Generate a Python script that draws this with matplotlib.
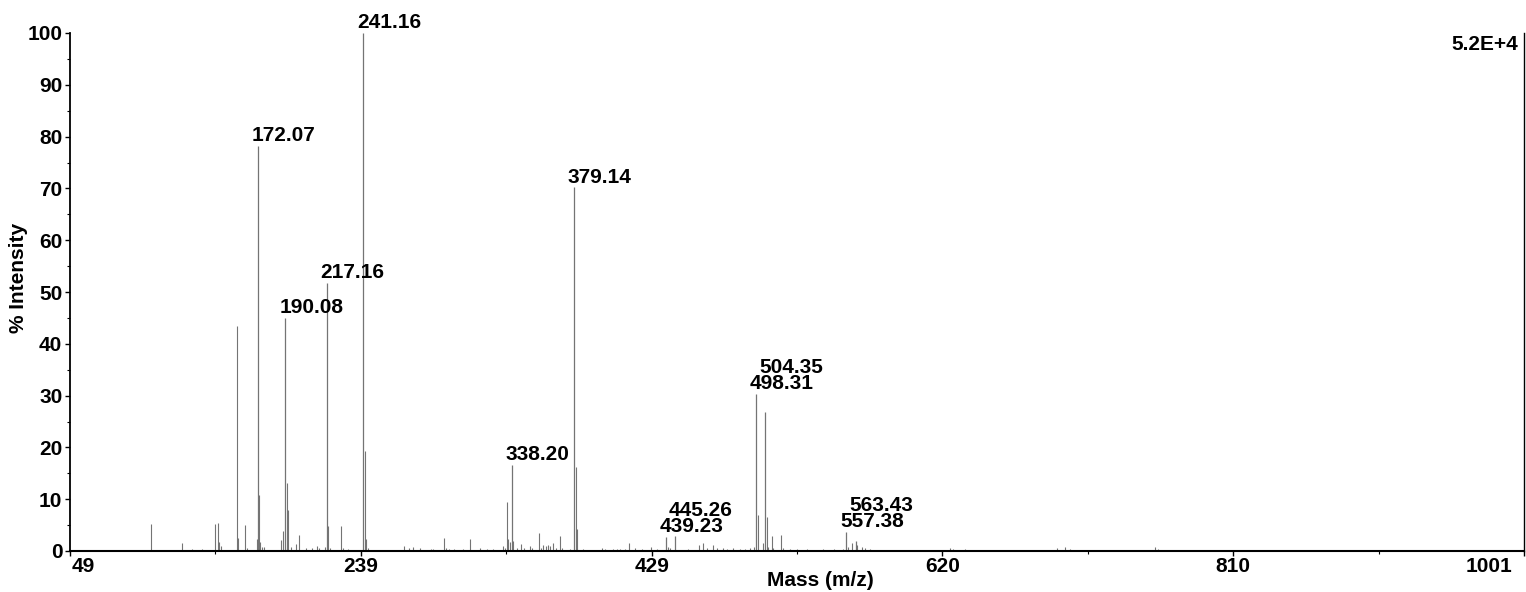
import matplotlib
matplotlib.use("Agg")
import matplotlib.pyplot as plt
import matplotlib.transforms as mtransforms
import numpy as np

# ---------------- data ----------------
labeled_mass = [172.07, 190.08, 217.16, 241.16, 338.20, 379.14,
                439.23, 445.26, 498.31, 504.35, 557.38, 563.43]
labeled_int = [78.2, 45.0, 51.7, 100.0, 16.6, 70.2,
               2.7, 2.9, 30.4, 26.8, 3.7, 2.0]

other_mass = [55.0, 60.0, 66.0, 75.0, 85.0, 93.0, 102.0, 122.5, 129.1, 135.2,
              143.8, 146.1, 146.8, 148.1, 158.2, 159.0, 163.8, 165.1, 171.3,
              173.05, 173.6, 175.0, 176.0, 187.0, 188.7, 191.05, 191.4, 192.0,
              193.4, 197.2, 199.2, 203.5, 207.3, 211.0, 212.2, 216.2, 218.2,
              219.5, 226.7, 228.0, 231.0, 242.16, 243.1, 244.2, 249.9, 267.9,
              271.2, 273.8, 278.2, 285.4, 286.9, 293.9, 295.2, 297.4, 300.5,
              306.6, 311.0, 317.5, 321.9, 326.2, 332.8, 333.9, 335.0, 336.0,
              337.1, 339.3, 341.7, 344.4, 346.3, 350.2, 351.4, 356.1, 357.2,
              359.0, 360.5, 362.2, 363.3, 365.5, 367.3, 369.9, 371.0, 376.4,
              380.14, 381.2, 385.2, 397.2, 399.4, 404.6, 407.0, 409.2, 412.5,
              415.3, 419.0, 423.4, 429.3, 433.2, 440.8, 441.9, 453.5, 461.1,
              463.3, 465.9, 469.9, 472.7, 476.8, 479.3, 483.2, 487.8, 491.0,
              494.3, 496.9, 499.31, 503.0, 505.35, 506.3, 508.5, 509.6, 514.6,
              516.1, 520.5, 524.9, 531.5, 542.3, 548.9, 555.4, 558.7, 561.3,
              564.2, 567.5, 569.6, 572.9, 579.5, 589.3, 599.1, 612.2, 625.3,
              627.3, 635.1, 645.0, 658.0, 671.1, 684.2, 695.2, 700.6, 703.9,
              717.0, 730.1, 743.2, 759.5, 761.5, 775.9, 795.6, 821.8, 854.5,
              887.3, 920.0, 952.7, 985.5]
other_int = [0.2, 0.2, 0.2, 0.2, 0.2, 0.2, 5.2, 1.6, 0.4, 0.4,
             5.3, 5.5, 1.7, 0.9, 43.5, 2.6, 5.0, 0.6, 2.3,
             10.8, 1.7, 0.8, 0.8, 2.1, 3.9, 13.2, 0.6, 7.9,
             0.8, 1.3, 3.1, 0.5, 0.5, 1.0, 0.5, 0.7, 4.8,
             0.5, 4.8, 0.5, 0.3, 19.4, 2.3, 0.5, 0.2, 0.9,
             0.5, 0.7, 0.5, 0.4, 0.4, 2.5, 0.5, 0.4, 0.4,
             0.3, 2.4, 0.5, 0.3, 0.3, 1.0, 0.5, 9.5, 2.3,
             1.7, 2.0, 0.5, 1.3, 0.5, 0.9, 0.5, 3.5, 0.5,
             1.2, 1.0, 1.2, 0.9, 1.5, 0.5, 2.9, 0.5, 0.4,
             16.2, 4.2, 0.4, 0.5, 0.3, 0.3, 0.3, 0.3, 0.4,
             1.5, 0.5, 0.4, 0.8, 0.4, 0.8, 0.5, 0.4, 1.2,
             1.6, 0.5, 1.2, 0.5, 0.5, 0.4, 0.5, 0.4, 0.4,
             0.5, 0.8, 6.9, 1.6, 6.5, 0.8, 2.9, 0.5, 3.0,
             0.5, 0.4, 0.3, 0.3, 0.3, 0.3, 0.4, 0.8, 1.5,
             1.1, 0.8, 0.5, 0.4, 0.2, 0.2, 0.2, 0.2, 0.6,
             0.3, 0.3, 0.2, 0.2, 0.2, 0.2, 0.5, 0.7, 0.3,
             0.2, 0.2, 0.2, 0.8, 0.3, 0.2, 0.2, 0.2, 0.2,
             0.2, 0.2, 0.2, 0.2]

x_ticks = [49, 239, 429, 620, 810, 1001]
scale_text = "5.2E+4"
x_label = "Mass (m/z)"
y_label = "% Intensity"

# ---------------- plot ----------------
plt.rcParams['font.family'] = ['Liberation Sans', 'DejaVu Sans']
plt.rcParams['font.weight'] = 'bold'

W, H, DPI = 1526, 592, 100
fig = plt.figure(figsize=(W / DPI, H / DPI), dpi=DPI)
ax = fig.add_axes([70 / W, (H - 551) / H, (1524 - 70) / W, (551 - 33) / H])

peak_color = '#747474'
ax.vlines(other_mass, 0, other_int, color=peak_color, lw=0.8)
ax.vlines(labeled_mass, 0, labeled_int, color=peak_color, lw=0.9)

ax.set_xlim(49, 1001)
ax.set_ylim(0, 100)

ax.spines['top'].set_visible(False)
ax.spines['left'].set_linewidth(1.3)
ax.spines['bottom'].set_linewidth(1.5)
ax.spines['right'].set_linewidth(1.0)

ax.set_yticks(np.arange(0, 101, 10))
ax.set_yticks(np.arange(5, 100, 10), minor=True)
xt = np.linspace(x_ticks[0], x_ticks[-1], len(x_ticks))
ax.set_xticks(xt)
ax.set_xticklabels([str(v) for v in x_ticks])
ax.set_xticks((xt[:-1] + xt[1:]) / 2, minor=True)

ax.tick_params(axis='both', which='major', labelsize=15, length=3.5, width=1, pad=2)
ax.tick_params(axis='both', which='minor', length=2.5, width=0.8)
ax.tick_params(axis='x', which='major', pad=1)

labels = ax.get_xticklabels()
labels[0].set_horizontalalignment('left')
labels[0].set_transform(labels[0].get_transform() + mtransforms.ScaledTranslation(2 / DPI, 0, fig.dpi_scale_trans))
labels[-1].set_horizontalalignment('right')
labels[-1].set_transform(labels[-1].get_transform() + mtransforms.ScaledTranslation(-12 / DPI, 0, fig.dpi_scale_trans))
for t in ax.get_xticklabels() + ax.get_yticklabels():
    t.set_fontweight('bold')

ax.set_xlabel(x_label, fontsize=15, fontweight='bold')
ax.xaxis.set_label_coords(0.516, -0.038)
ax.xaxis.label.set_verticalalignment('top')
ax.set_ylabel(y_label, fontsize=15, fontweight='bold')
ax.yaxis.set_label_coords(-0.0289, 0.527)

ax.text(0.996, 0.977, scale_text, transform=ax.transAxes, ha='right', va='center',
        fontsize=15, fontweight='bold')

# peak labels, stacked upward to avoid overlapping
fig.canvas.draw()
renderer = fig.canvas.get_renderer()
placed = []
order = np.argsort(labeled_mass)
for i in order:
    m, h = labeled_mass[i], labeled_int[i]
    txt = ax.annotate(f"{m:.2f}", xy=(m, h), xytext=(-4.5, 0.5), textcoords='offset points',
                      ha='left', va='bottom', fontsize=15, fontweight='bold')
    bb = txt.get_window_extent(renderer)
    for _ in range(20):
        hit = None
        for pb in placed:
            if bb.x0 < pb.x1 and bb.x1 > pb.x0 and bb.y0 < pb.y1 - 3 and bb.y1 > pb.y0:
                hit = pb
                break
        if hit is None:
            break
        dy_px = (hit.y1 - 3) - bb.y0
        x_off, y_off = txt.xyann
        txt.xyann = (x_off, y_off + dy_px * 72 / DPI)
        bb = txt.get_window_extent(renderer)
    placed.append(bb)

fig.savefig("out.png", dpi=DPI)
